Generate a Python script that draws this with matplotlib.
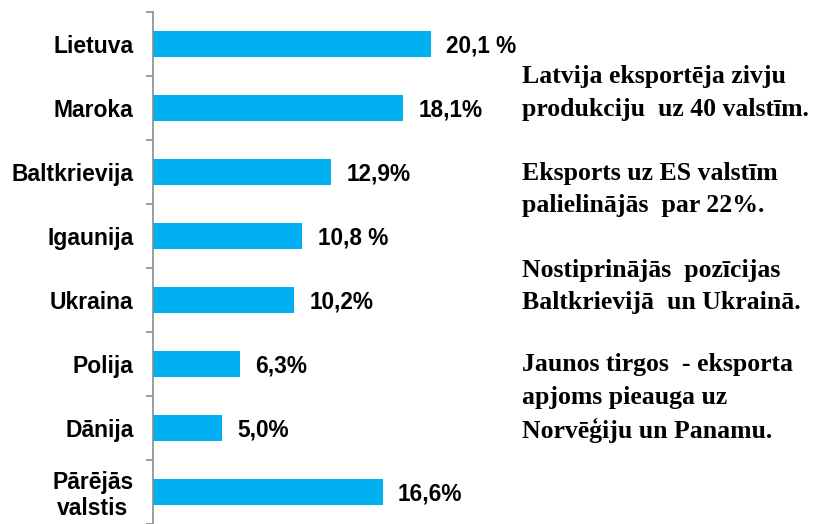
import numpy as np
import matplotlib
matplotlib.use("Agg")
import matplotlib.pyplot as plt

countries = ["Lietuva", "Maroka", "Baltkrievija", "Igaunija", "Ukraina",
             "Polija", "Dānija", "Pārējās\nvalstis"]
shares = [20.1, 18.1, 12.9, 10.8, 10.2, 6.3, 5.0, 16.6]
share_labels = ["20,1 %", "18,1%", "12,9%", "10,8 %", "10,2%", "6,3%", "5,0%", "16,6%"]

notes = [
    ["Latvija eksportēja zivju", "produkciju  uz 40 valstīm."],
    ["Eksports uz ES valstīm", "palielinājās  par 22%."],
    ["Nostiprinājās  pozīcijas", "Baltkrievijā  un Ukrainā."],
    ["Jaunos tirgos  - eksporta", "apjoms pieauga uz", "Norvēģiju un Panamu."],
]

W, H = 815, 524
fig = plt.figure(figsize=(W / 100, H / 100), dpi=100)
ax_left, ax_top = 153, 12
ax = fig.add_axes([ax_left / W, 0, 1 - ax_left / W, 1 - ax_top / H])

px_per_unit = 13.83
ax.set_xlim(0, (W - ax_left) / px_per_unit)
ypos = np.arange(len(countries))
ax.set_ylim(len(countries) - 0.5, -0.5)

ax.barh(ypos, shares, height=0.41, color="#00B0F0", edgecolor="none")

lab_font = dict(family="Liberation Sans", weight="bold", size=16.3)
for y, v, s in zip(ypos, shares, share_labels):
    ax.annotate(s, (v, y), xytext=(11, -1.5), textcoords="offset points",
                ha="left", va="center", **lab_font)

for sp in ["top", "right", "bottom"]:
    ax.spines[sp].set_visible(False)
ax.spines["left"].set_color("#8c8c8c")
ax.spines["left"].set_linewidth(1.2)
ax.set_xticks([])

ax.set_yticks(ypos)
ax.set_yticklabels(countries, fontfamily="Liberation Sans", fontweight="bold", fontsize=16.5)
ax.tick_params(axis="y", which="major", length=0, pad=14)
ax.set_yticks(np.arange(len(countries) + 1) - 0.5, minor=True)
ax.tick_params(axis="y", which="minor", length=5, width=1.2, color="#8c8c8c")
for t in ax.get_yticklabels():
    if "\n" in t.get_text():
        t.set_multialignment("center")
        t.set_linespacing(1.15)

# texts on the right side
note_font = dict(family="Liberation Serif", weight="bold", size=18.5)
starts = [77, 173, 270, 365]
for y0, lines in zip(starts, notes):
    for i, line in enumerate(lines):
        fig.text(522 / W, 1 - (y0 + i * 32.5) / H, line, ha="left", va="center", **note_font)

fig.savefig("out.png", dpi=100)
